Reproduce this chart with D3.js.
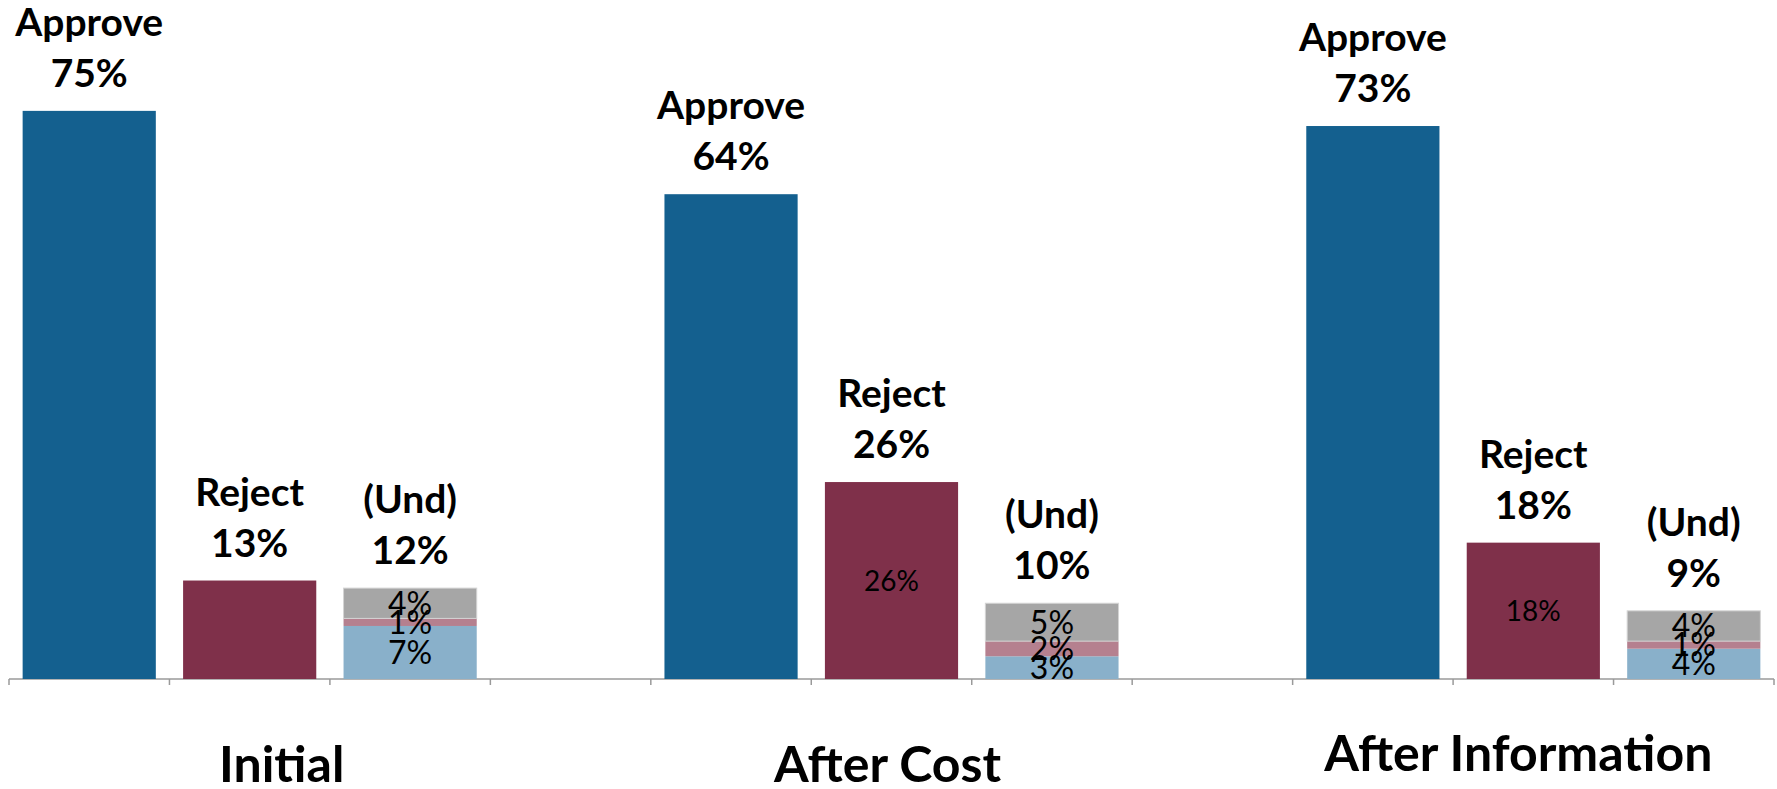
<!DOCTYPE html>
<html>
<head>
<meta charset="utf-8">
<script src="https://cdn.jsdelivr.net/npm/d3@7/dist/d3.min.js"></script>
<style>
  html, body { margin: 0; padding: 0; background: #fff; }
  svg { display: block; }
</style>
</head>
<body>
<svg id="chart" width="1777" height="789"></svg>
<script>
// ---- data ----
const groups = ["Initial", "After Cost", "After Information"];
const approve = [75, 64, 73];
const reject = [13, 26, 18];
const undTotal = [12, 10, 9];
const undLeanApprove = [7, 3, 4];   // light blue, bottom
const undLeanReject = [1, 2, 1];    // pink, middle
const undPure = [4, 5, 4];          // gray, top
const rejectInnerLabel = [false, true, true];
const barNames = ["Approve", "Reject", "(Und)"];

// ---- layout / style ----
const W = 1777, H = 789;
const axisY = 679, plotTop = 73;
const xLeft = 9, xRight = 1774;
const colors = {
  approve: "#14608F", reject: "#7F304A",
  leanApprove: "#89B0CA", leanReject: "#B5808F", pure: "#A6A6A6"
};
const groupLabelDx = [32, -4, -15];
const groupLabelY = [782, 782, 771];

// slots: 3 bars per group + an empty spacer slot between groups
const slots = [];
groups.forEach((g, gi) => {
  barNames.forEach((b, bi) => slots.push(g + "|" + bi));
  if (gi < groups.length - 1) slots.push("gap" + gi);
});

const svg = d3.select("#chart");
const x = d3.scaleBand().domain(slots).range([xLeft, xRight])
  .paddingInner(0.17).paddingOuter(0.085);
const y = d3.scaleLinear().domain([0, 80]).range([axisY, plotTop]);

const step = x.step();
const bw = x.bandwidth();

// ---- axis ----
const axisG = svg.append("g");
axisG.append("line")
  .attr("x1", xLeft).attr("x2", xRight)
  .attr("y1", axisY).attr("y2", axisY)
  .attr("stroke", "#9a9a9a").attr("stroke-width", 1.5);
d3.range(slots.length + 1).forEach(i => {
  const tx = xLeft + i * step;
  axisG.append("line")
    .attr("x1", tx).attr("x2", tx)
    .attr("y1", axisY).attr("y2", axisY + 6)
    .attr("stroke", "#9a9a9a").attr("stroke-width", 1.5);
});

const fontBold = "Lato, 'Open Sans', sans-serif";

function topLabel(cx, barTop, name, val) {
  const t = svg.append("text")
    .attr("text-anchor", "middle")
    .attr("font-family", fontBold).attr("font-weight", "bold")
    .attr("font-size", 39).attr("fill", "#000");
  t.append("tspan").attr("x", cx).attr("y", barTop - 75).text(name);
  t.append("tspan").attr("x", cx).attr("y", barTop - 24).text(val + "%");
}

function innerLabel(cx, y0, y1, val, size) {
  svg.append("text")
    .attr("x", cx).attr("y", (y0 + y1) / 2)
    .attr("dy", "0.36em")
    .attr("text-anchor", "middle")
    .attr("font-family", "Lato, sans-serif")
    .attr("font-size", size).attr("fill", "#000")
    .text(val + "%");
}

groups.forEach((g, gi) => {
  // Approve
  const xa = x(g + "|0");
  svg.append("rect").attr("x", xa).attr("width", bw)
    .attr("y", y(approve[gi])).attr("height", axisY - y(approve[gi]))
    .attr("fill", colors.approve);
  topLabel(xa + bw / 2, y(approve[gi]), barNames[0], approve[gi]);

  // Reject
  const xr = x(g + "|1");
  svg.append("rect").attr("x", xr).attr("width", bw)
    .attr("y", y(reject[gi])).attr("height", axisY - y(reject[gi]))
    .attr("fill", colors.reject);
  topLabel(xr + bw / 2, y(reject[gi]), barNames[1], reject[gi]);
  if (rejectInnerLabel[gi]) {
    innerLabel(xr + bw / 2, y(reject[gi]), axisY, reject[gi], 28);
  }

  // Undecided stacked
  const xu = x(g + "|2");
  const segs = [
    { v: undLeanApprove[gi], c: colors.leanApprove },
    { v: undLeanReject[gi], c: colors.leanReject },
    { v: undPure[gi], c: colors.pure }
  ];
  let acc = 0;
  const segPos = [];
  segs.forEach(s => {
    const y0 = y(acc + s.v), y1 = y(acc);
    svg.append("rect").attr("x", xu).attr("width", bw)
      .attr("y", y0).attr("height", y1 - y0)
      .attr("fill", s.c)
      .attr("stroke", s.c === colors.pure ? "#d4d4d4" : "none")
      .attr("stroke-width", s.c === colors.pure ? 1 : 0);
    segPos.push({ y0, y1, v: s.v });
    acc += s.v;
  });
  segPos.forEach(s => innerLabel(xu + bw / 2, s.y0, s.y1, s.v, 32));
  topLabel(xu + bw / 2, y(acc), barNames[2], undTotal[gi]);

  // group label
  svg.append("text")
    .attr("x", xr + bw / 2 + groupLabelDx[gi])
    .attr("y", groupLabelY[gi])
    .attr("text-anchor", "middle")
    .attr("font-family", fontBold).attr("font-weight", "bold")
    .attr("font-size", 50).attr("fill", "#000")
    .text(g);
});
</script>
</body>
</html>
